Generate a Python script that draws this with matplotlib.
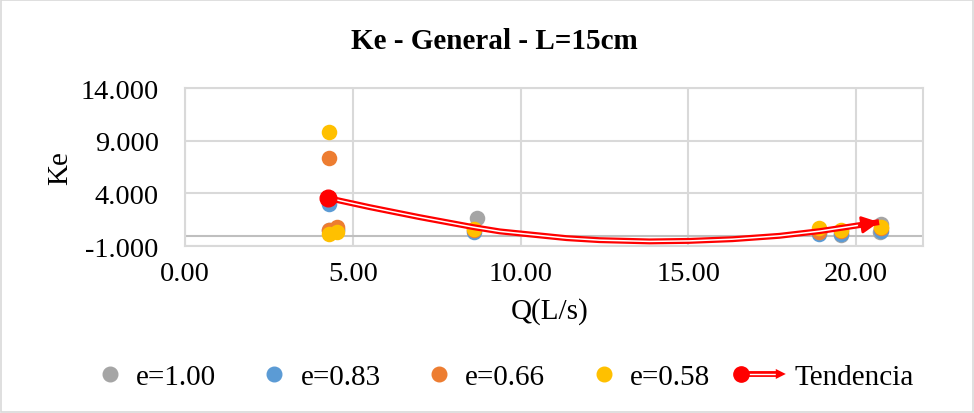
import matplotlib
matplotlib.use('Agg')
import matplotlib.pyplot as plt
from matplotlib.lines import Line2D
from matplotlib.legend_handler import HandlerBase
from matplotlib.patches import Rectangle, FancyArrowPatch
from matplotlib.ticker import FormatStrFormatter

plt.rcParams['font.family'] = ['Liberation Serif', 'DejaVu Serif']

# data
q_e100 = [4.30, 4.52, 8.69, 18.90, 19.55, 20.74, 20.70]
ke_e100 = [0.50, 0.60, 1.66, 0.30, 0.10, 1.09, 0.35]

q_e083 = [4.30, 4.52, 8.60, 18.90, 19.55, 20.74]
ke_e083 = [2.99, 0.50, 0.33, 0.20, 0.14, 0.42]

q_e066 = [4.30, 4.30, 4.52, 8.60, 18.90, 19.55, 20.74]
ke_e066 = [7.36, 0.52, 0.80, 0.50, 0.33, 0.40, 0.70]

q_e058 = [4.30, 4.30, 4.52, 8.60, 18.90, 19.55, 20.74]
ke_e058 = [9.83, 0.14, 0.33, 0.61, 0.71, 0.52, 0.85]

# trend curve, points
q_trend = [4.26, 5.50, 6.99, 8.60, 9.38, 9.97, 11.37, 12.35, 13.84,
           15.03, 16.31, 17.71, 18.90, 20.09, 20.68]
ke_trend = [3.56, 2.70, 1.75, 0.80, 0.40, 0.21, -0.24, -0.43, -0.55,
            -0.50, -0.34, -0.02, 0.42, 0.99, 1.28]

series = [
    ("e=1.00", q_e100, ke_e100, '#a5a5a5'),
    ("e=0.83", q_e083, ke_e083, '#5b9bd5'),
    ("e=0.66", q_e066, ke_e066, '#ed7d31'),
    ("e=0.58", q_e058, ke_e058, '#ffc000'),
]


class TrendHandler(HandlerBase):
    # dot + double line + arrow head, like the Excel legend key
    def create_artists(self, legend, orig_handle, xdescent, ydescent,
                       width, height, fontsize, trans):
        y = height / 2 - ydescent
        x0 = -xdescent
        xa = x0 - 9
        xb = x0 + width - 5
        red = Line2D([xa, xb], [y, y], color='red', lw=4.2,
                     solid_capstyle='butt', transform=trans)
        white = Line2D([xa, xb], [y, y], color='white', lw=1.0,
                       transform=trans)
        dot = Line2D([xa], [y], marker='o', color='red', markersize=11,
                     linestyle='none', transform=trans)
        arrow = FancyArrowPatch((xb - 2, y), (x0 + width + 4, y),
                                arrowstyle='-|>', mutation_scale=18,
                                color='red', lw=0, transform=trans)
        return [red, white, arrow, dot]


fig = plt.figure(figsize=(9.74, 4.14), dpi=100)
ax = fig.add_axes([0.190, 0.403, 0.758, 0.382])

for label, q, ke, c in series:
    ax.scatter(q, ke, s=125, color=c, label=label, zorder=3, linewidths=0)

ax.plot(q_trend, ke_trend, color='red', lw=4.3, zorder=4, solid_capstyle='butt')
ax.plot(q_trend[:-1], ke_trend[:-1], color='white', lw=1.1, zorder=5)
ax.annotate('', xy=(q_trend[-1], ke_trend[-1]), xytext=(q_trend[-2], ke_trend[-2]),
            arrowprops=dict(arrowstyle='-|>', color='red', lw=2,
                            mutation_scale=26, shrinkA=0, shrinkB=0),
            zorder=6)
ax.plot([q_trend[0]], [ke_trend[0]], 'o', color='red', markersize=12, zorder=6)

ax.set_xlim(0, 22)
ax.set_ylim(-1, 14)
ax.set_xticks([0, 5, 10, 15, 20])
ax.set_yticks([-1, 4, 9, 14])
ax.xaxis.set_major_formatter(FormatStrFormatter('%.2f'))
ax.yaxis.set_major_formatter(FormatStrFormatter('%.3f'))
ax.tick_params(length=0, labelsize=20.5, colors='black')
ax.tick_params(axis='y', pad=19)
ax.tick_params(axis='x', pad=11)
ax.grid(True, color='#d9d9d9', lw=1.5, zorder=0)
ax.set_axisbelow(True)
ax.axhline(0, color='#bfbfbf', lw=1.5, zorder=1)
for sp in ax.spines.values():
    sp.set_color('#d9d9d9')
    sp.set_linewidth(1.5)

fig.text(0.564, 0.247, 'Q(L/s)', fontsize=21, ha='center', va='center')
fig.text(0.0616, 0.594, 'Ke', fontsize=21, ha='center', va='center', rotation=90)
fig.text(0.508, 0.899, 'Ke - General - L=15cm', fontsize=21, fontweight='bold',
         ha='center', va='center')

handles = [Line2D([], [], marker='o', color=c, linestyle='none', markersize=10.5)
           for _, _, _, c in series]
labels = [s[0] for s in series]
handles.append(Line2D([], [], color='red'))
labels.append('Tendencia')
fig.legend(handles, labels, loc='center', bbox_to_anchor=(0.518, 0.087), ncol=5,
           frameon=False, fontsize=21, handlelength=1.0, handletextpad=0.4,
           columnspacing=1.5, handler_map={handles[-1]: TrendHandler()})

fig.patches.append(Rectangle((0.001, 0.002), 0.998, 0.996, transform=fig.transFigure,
                             fill=False, edgecolor='#d9d9d9', lw=1.2))

fig.savefig('out.png', dpi=100)
